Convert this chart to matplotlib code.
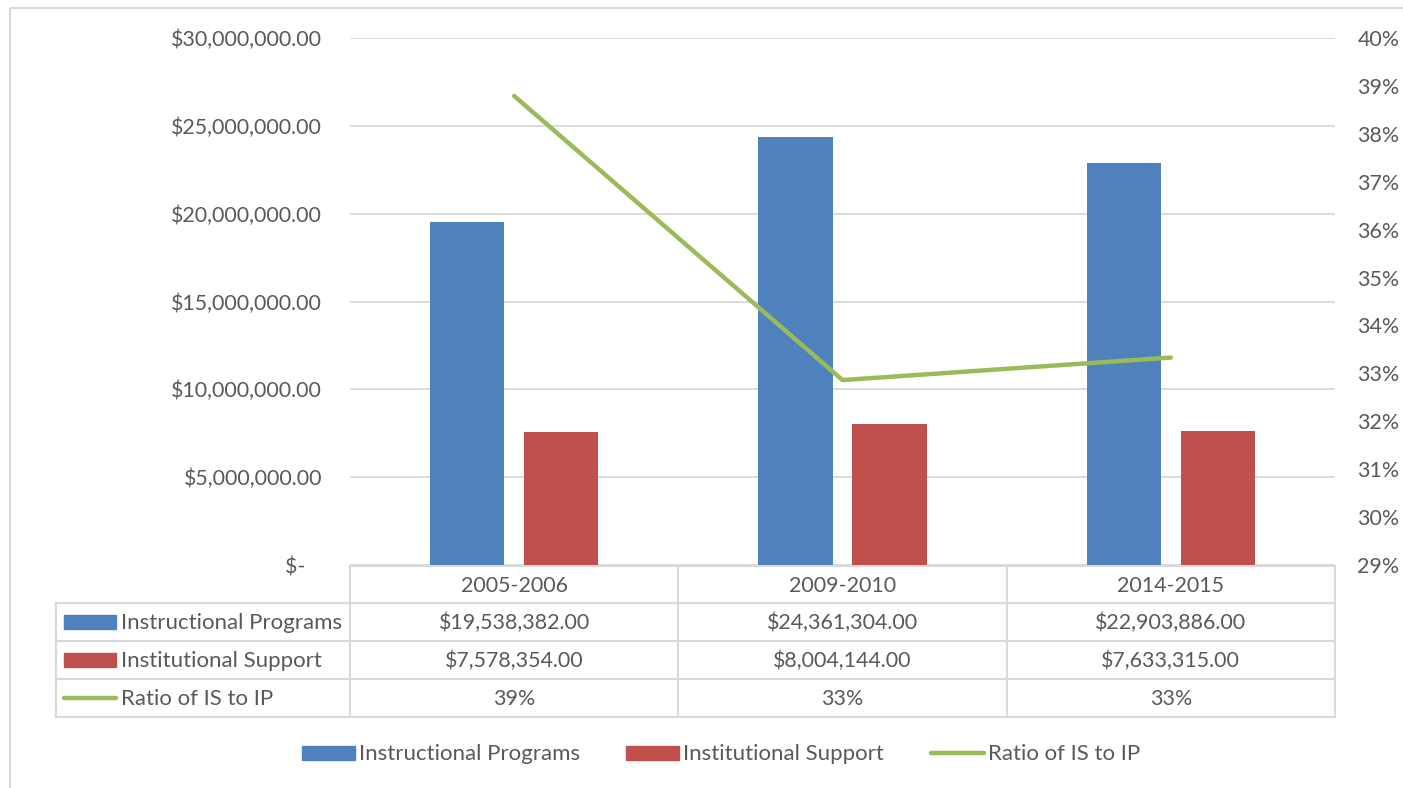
"""Instructional programs vs institutional support, with IS/IP ratio and data table."""

import matplotlib
matplotlib.use("Agg")
import matplotlib.pyplot as plt
from matplotlib.patches import Rectangle
from matplotlib.lines import Line2D
from matplotlib.transforms import blended_transform_factory

years = ["2005-2006", "2009-2010", "2014-2015"]
instructional = [19538382, 24361304, 22903886]
support = [7578354, 8004144, 7633315]
ratio = [0.3879, 0.3286, 0.3333]

series_names = ["Instructional Programs", "Institutional Support", "Ratio of IS to IP"]
left_ticks = [0, 5e6, 10e6, 15e6, 20e6, 25e6, 30e6]
right_ticks = [0.29, 0.30, 0.31, 0.32, 0.33, 0.34, 0.35, 0.36, 0.37, 0.38, 0.39, 0.40]

BLUE = "#4F81BD"
RED = "#C0504D"
GREEN = "#9BBB59"
GRID = "#D9D9D9"
TEXT = "#595959"
FS = 15.4      # numbers
FS_LBL = 16    # series names

plt.rcParams["font.family"] = ["Lato", "DejaVu Sans"]

W, H = 1403, 788
fig = plt.figure(figsize=(W / 100, H / 100), dpi=100)

# overlay in pixel coords for frame, table and legend
over = fig.add_axes([0, 0, 1, 1], zorder=0)
over.set_xlim(0, W)
over.set_ylim(H, 0)
over.axis("off")
over.add_patch(Rectangle((10, 8), W + 20, H + 20, fill=False, ec=GRID, lw=1.5))

# main plot area
x0, x1, ytop, ybot = 350, 1335, 38, 565
ax = fig.add_axes([x0 / W, (H - ybot) / H, (x1 - x0) / W, (ybot - ytop) / H], zorder=2)
ax.patch.set_alpha(0)

xs = range(len(years))
bw = 0.226
off = 0.143
ax.bar([x - off for x in xs], instructional, width=bw, color=BLUE, zorder=3)
ax.bar([x + off for x in xs], support, width=bw, color=RED, zorder=3)
ax.set_xlim(-0.5, len(years) - 0.5)
ax.set_ylim(0, 30e6)
ax.set_yticks(left_ticks)
ax.set_yticklabels(["$-   "] + [f"${v:,.2f}" for v in left_ticks[1:]])
ax.set_xticks([])
ax.grid(axis="y", color=GRID, lw=1.3, zorder=0)
ax.tick_params(axis="y", length=0, pad=20, labelsize=FS, labelcolor=TEXT)
for s in ax.spines.values():
    s.set_visible(False)

ax2 = ax.twinx()
ax2.plot(list(xs), ratio, color=GREEN, lw=3.2, solid_capstyle="round", zorder=4)
ax2.set_ylim(0.29, 0.40)
ax2.set_yticks(right_ticks)
ax2.set_yticklabels([f"{v:.0%}" for v in right_ticks])
ax2.tick_params(axis="y", length=0, pad=16, labelsize=FS, labelcolor=TEXT)
for s in ax2.spines.values():
    s.set_visible(False)

# data table
tr = blended_transform_factory(ax.transData, over.transData)
rows_y = [566, 603, 641, 679, 717]
lkw = dict(color=GRID, lw=1.5, zorder=1)
over.plot([x0, x1], [rows_y[0], rows_y[0]], **lkw)
for y in rows_y[1:]:
    over.plot([56, x1], [y, y], **lkw)
over.plot([56, 56], [rows_y[1], rows_y[-1]], **lkw)
for b in [-0.5, 0.5, 1.5, 2.5]:
    over.add_line(Line2D([b, b], [rows_y[0], rows_y[-1]], transform=tr, **lkw))

cells = [
    years,
    [f"${v:,.2f}" for v in instructional],
    [f"${v:,.2f}" for v in support],
    [f"{v:.0%}" for v in ratio],
]
for r, row in enumerate(cells):
    yc = (rows_y[r] + rows_y[r + 1]) / 2 + 1
    for i, txt in enumerate(row):
        over.text(i, yc, txt, transform=tr, ha="center", va="center",
                  fontsize=FS, color=TEXT)

colors = [BLUE, RED, GREEN]
for r, (name, c) in enumerate(zip(series_names, colors)):
    yc = (rows_y[r + 1] + rows_y[r + 2]) / 2
    if r < 2:
        over.add_patch(Rectangle((64, yc - 7), 52, 14, color=c, zorder=2))
    else:
        over.plot([64, 116], [yc, yc], color=c, lw=3.2, solid_capstyle="round")
    over.text(121, yc + 1, name, ha="left", va="center", fontsize=FS_LBL, color=TEXT)

# legend
leg_y = 753
leg_x = [302, 626, 931]
for lx, name, c, r in zip(leg_x, series_names, colors, range(3)):
    if r < 2:
        over.add_patch(Rectangle((lx, leg_y - 7), 53, 14, color=c))
    else:
        over.plot([lx, lx + 53], [leg_y, leg_y], color=c, lw=3.2, solid_capstyle="round")
    over.text(lx + 57, leg_y + 1, name, ha="left", va="center", fontsize=FS_LBL, color=TEXT)

fig.savefig("out.png", dpi=100)
